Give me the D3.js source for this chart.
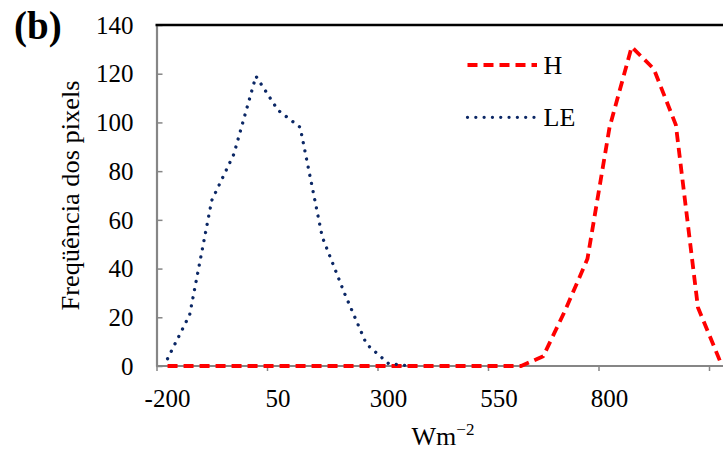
<!DOCTYPE html>
<html>
<head>
<meta charset="utf-8">
<script src="https://cdn.jsdelivr.net/npm/d3@7"></script>
<style>
  html, body { margin: 0; padding: 0; background: #fff; }
  svg { display: block; }
  text { font-family: "Liberation Serif", "Times New Roman", serif; fill: #000; }
</style>
</head>
<body>
<svg id="chart" width="723" height="450"></svg>
<script>
// Histogram bin centres (W m-2) and pixel counts per bin
const leBins = [-175, -125, -75, -25, 25, 75, 125, 175, 225, 275, 325, 375];
const leCounts = [3, 21, 68, 87, 119, 105, 98, 53, 30, 9, 1, 0];

const hBins = [-175, -125, -75, -25, 25, 75, 125, 175, 225, 275, 325, 375, 425, 475,
               525, 575, 625, 675, 725, 775, 825, 875, 925, 975, 1025, 1075];
const hCounts = [0, 0, 0, 0, 0, 0, 0, 0, 0, 0, 0, 0, 0, 0,
                 0, 0, 0, 4, 23, 44, 98, 131, 122, 99, 24, 2];

const xTicks = [-200, 50, 300, 550, 800, 1050];
const xTickLabels = ["-200", "50", "300", "550", "800", ""];
const yTicks = [0, 20, 40, 60, 80, 100, 120, 140];

const svg = d3.select("#chart");
const W = 723;
const axisGray = "#868686";

const x = d3.scaleLinear().domain([-200, 1050]).range([156.5, 709]);
const y = d3.scaleLinear().domain([0, 140]).range([366, 25]);

// y axis: inward ticks, grey spine
const gy = svg.append("g")
  .attr("transform", `translate(${x(-200)},0)`)
  .call(d3.axisLeft(y).tickValues(yTicks).tickSizeInner(-6).tickSizeOuter(0).tickPadding(23));
gy.selectAll("text").attr("font-size", 25).attr("dy", "0.33em")
  .style("font-family", '"Liberation Serif", "Times New Roman", serif');

// x axis: outward ticks
const gx = svg.append("g")
  .attr("transform", `translate(0,${y(0)})`)
  .call(d3.axisBottom(x).tickValues(xTicks).tickSizeInner(5).tickSizeOuter(0).tickPadding(18)
    .tickFormat((d, i) => xTickLabels[i]));
gx.selectAll("text").attr("font-size", 25).attr("dx", 10.5)
  .style("font-family", '"Liberation Serif", "Times New Roman", serif');

[gx, gy].forEach(g => {
  g.select(".domain").attr("stroke", axisGray).attr("stroke-width", 2.2);
  g.selectAll(".tick line").attr("stroke", axisGray).attr("stroke-width", 1.5);
  g.attr("font-family", null);
});
gx.select(".domain").attr("d", `M${x(-200)},0H${W}`);

// top border of the plot area
svg.append("line")
  .attr("x1", x(-200) - 1).attr("x2", W)
  .attr("y1", y(140)).attr("y2", y(140))
  .attr("stroke", "#000").attr("stroke-width", 2.4);

const line = d3.line().x(d => x(d[0])).y(d => y(d[1]));

const hStyle = { stroke: "#ff0000", width: 3.8, dash: "10 6", cap: "butt" };
const leStyle = { stroke: "#0b2765", width: 3.3, dash: "0.01 8.3", cap: "round" };

function styled(sel, s) {
  return sel.attr("fill", "none")
    .attr("stroke", s.stroke)
    .attr("stroke-width", s.width)
    .attr("stroke-dasharray", s.dash)
    .attr("stroke-linecap", s.cap)
    .attr("stroke-linejoin", "round");
}

styled(svg.append("path").attr("d", line(hBins.map((b, i) => [b, hCounts[i]]))), hStyle);
styled(svg.append("path").attr("d", line(leBins.map((b, i) => [b, leCounts[i]]))), leStyle);

// legend
const legend = [
  { name: "H", style: hStyle, y: 65 },
  { name: "LE", style: leStyle, y: 117.3 }
];
legend.forEach(l => {
  styled(svg.append("line")
    .attr("x1", 467.5).attr("x2", 537)
    .attr("y1", l.y).attr("y2", l.y), l.style);
  svg.append("text")
    .attr("x", 543.5).attr("y", l.y + 8.5)
    .attr("font-size", 26)
    .text(l.name);
});

// axis titles
svg.append("text")
  .attr("transform", `translate(79,${(y(0) + y(140)) / 2}) rotate(-90)`)
  .attr("text-anchor", "middle")
  .attr("font-size", 26)
  .attr("textLength", 230)
  .attr("lengthAdjust", "spacingAndGlyphs")
  .text("Freqüência dos pixels");

const xt = svg.append("text")
  .attr("x", 443).attr("y", 445)
  .attr("text-anchor", "middle")
  .attr("font-size", 26);
xt.append("tspan").text("Wm");
xt.append("tspan").attr("font-size", 17).attr("dy", -10).text("−2");

// panel letter
svg.append("text")
  .attr("x", 14).attr("y", 39)
  .attr("font-size", 39)
  .attr("font-weight", "bold")
  .text("(b)");
</script>
</body>
</html>
